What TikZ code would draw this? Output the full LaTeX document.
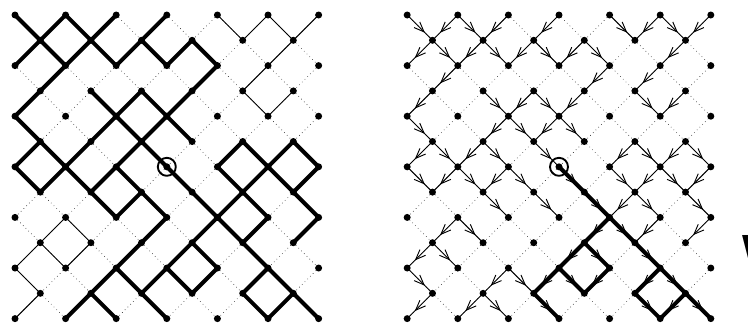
\documentclass[tikz,border=0pt]{standalone}
\usepackage{fontspec}
\newfontfamily\labelfont{Liberation Sans}
\usetikzlibrary{arrows.meta,decorations.markings}
\tikzset{
	dotedge/.style={line width=0.75pt,black!85,dash pattern=on 0pt off 3.3pt},
	thinedge/.style={line width=0.8pt},
	boldedge/.style={line width=3.4pt},
	arr/.style={postaction={decorate,decoration={markings,
		mark=at position 0.7 with {\arrow[line width=0.8pt]{Straight Barb[length=3mm,width=2.4mm]}}}}}
}
\begin{document}
\begin{tikzpicture}[x=0.759cm,y=-0.759cm,line join=round,line cap=round]
	\useasboundingbox (-0.593,-0.593) rectangle (28.97,12.253);
	% Lattice points
	\foreach \a in {0,2,...,12} \foreach \b in {0,2,...,12}{
		\coordinate (L\a-\b) at (\a,\b);
		\coordinate (R\a-\b) at (\a+15.5,\b);}
	\foreach \a in {1,3,...,11} \foreach \b in {1,3,...,11}{
		\coordinate (L\a-\b) at (\a,\b);
		\coordinate (R\a-\b) at (\a+15.5,\b);}
	% Dotted lattice, edge by edge
	\foreach \g in {L,R}{
		\foreach \x/\xx in {0/1,2/3,4/5,6/7,8/9,10/11,2/1,4/3,6/5,8/7,10/9,12/11}
		\foreach \y/\yy in {0/1,2/3,4/5,6/7,8/9,10/11}
		\draw[dotedge] (\g\x-\y) -- (\g\xx-\yy);
		\foreach \x/\xx in {1/2,3/4,5/6,7/8,9/10,11/12,1/0,3/2,5/4,7/6,9/8,11/10}
		\foreach \y/\yy in {1/2,3/4,5/6,7/8,9/10,11/12}
		\draw[dotedge] (\g\x-\y) -- (\g\xx-\yy);
	}
	% Left: thin clusters
	\draw[thinedge] (L8-0) -- (L9-1) -- (L10-0) -- (L11-1) -- (L12-0);
	\draw[thinedge] (L11-1) -- (L9-3) -- (L10-4) -- (L11-3);
	\draw[thinedge] (L2-8) -- (L1-9) -- (L2-10) -- (L3-9) -- cycle;
	\draw[thinedge] (L1-9) -- (L0-10) -- (L1-11) -- (L0-12);
	% Left: thick cluster
	\draw[boldedge] (L0-0) -- (L1-1) -- (L2-2);
	\draw[boldedge] (L0-2) -- (L1-1) -- (L2-0) -- (L3-1) -- (L4-2) -- (L5-1) -- (L6-0);
	\draw[boldedge] (L4-0) -- (L3-1) -- (L2-2) -- (L1-3) -- (L0-4) -- (L1-5) -- (L0-6) -- (L1-7) -- (L2-6) -- (L3-5) -- (L4-4) -- (L5-3) -- (L6-4) -- (L7-3) -- (L8-2) -- (L7-1) -- (L6-2) -- (L5-1);
	\draw[boldedge] (L3-3) -- (L12-12);
	\draw[boldedge] (L1-5) -- (L3-7) -- (L4-8) -- (L5-7) -- (L6-8) -- (L2-12);
	\draw[boldedge] (L7-5) -- (L6-4) -- (L4-6) -- (L5-7);
	\draw[boldedge] (L4-6) -- (L3-7);
	\draw[boldedge] (L3-11) -- (L4-12);
	\draw[boldedge] (L4-10) -- (L6-12);
	\draw[boldedge] (L5-11) -- (L10-6) -- (L9-5) -- (L8-6) -- (L10-8) -- (L9-9);
	\draw[boldedge] (L6-10) -- (L7-11) -- (L8-10) -- (L7-9);
	\draw[boldedge] (L10-6) -- (L11-5) -- (L12-6) -- (L11-7) -- cycle;
	\draw[boldedge] (L11-7) -- (L12-8) -- (L11-9);
	\draw[boldedge] (L10-10) -- (L9-11) -- (L10-12) -- (L11-11);
	% Right: open edges, pointing down
	\foreach \a/\b/\c/\d in {0/0/1/1,2/0/1/1,2/0/3/1,4/0/3/1,6/0/5/1,8/0/9/1,10/0/9/1,10/0/11/1,12/0/11/1,
		1/1/0/2,1/1/2/2,3/1/2/2,3/1/4/2,5/1/4/2,5/1/6/2,7/1/6/2,7/1/8/2,11/1/10/2,
		2/2/1/3,8/2/7/3,10/2/9/3,
		1/3/0/4,3/3/4/4,5/3/4/4,5/3/6/4,7/3/6/4,9/3/10/4,11/3/10/4,
		0/4/1/5,4/4/3/5,4/4/5/5,6/4/5/5,6/4/7/5,
		1/5/0/6,1/5/2/6,3/5/2/6,3/5/4/6,5/5/6/6,9/5/8/6,9/5/10/6,11/5/10/6,11/5/12/6,
		0/6/1/7,2/6/1/7,2/6/3/7,4/6/3/7,4/6/5/7,8/6/9/7,10/6/9/7,10/6/11/7,12/6/11/7,
		3/7/4/8,5/7/6/8,9/7/8/8,9/7/10/8,11/7/12/8,
		2/8/1/9,2/8/3/9,10/8/9/9,12/8/11/9,
		1/9/0/10,1/9/2/10,
		0/10/1/11,4/10/3/11,4/10/5/11,
		1/11/0/12,3/11/2/12,3/11/4/12}
	\draw[thinedge,arr] (R\a-\b) -- (R\c-\d);
	% Right: cluster of the origin
	\foreach \a/\b/\c/\d in {6/6/7/7,7/7/8/8,8/8/9/9,9/9/10/10,10/10/11/11,11/11/12/12,
		8/8/7/9,7/9/6/10,7/9/8/10,6/10/5/11,6/10/7/11,8/10/7/11,5/11/6/12,
		10/10/9/11,9/11/10/12,11/11/10/12}
	\draw[boldedge,arr] (R\a-\b) -- (R\c-\d);
	% Vertices
	\foreach \g in {L,R}{
		\foreach \a in {0,2,...,12} \foreach \b in {0,2,...,12} \fill (\g\a-\b) circle (1.05mm);
		\foreach \a in {1,3,...,11} \foreach \b in {1,3,...,11} \fill (\g\a-\b) circle (1.05mm);
		\draw[line width=1.6pt] (\g6-6) circle (2.7mm);}
	\node[anchor=north west,inner sep=0pt,font=\labelfont\bfseries\fontsize{36}{36}\selectfont] (W) at (28.75,8.7) {W};
\end{tikzpicture}
\end{document}
